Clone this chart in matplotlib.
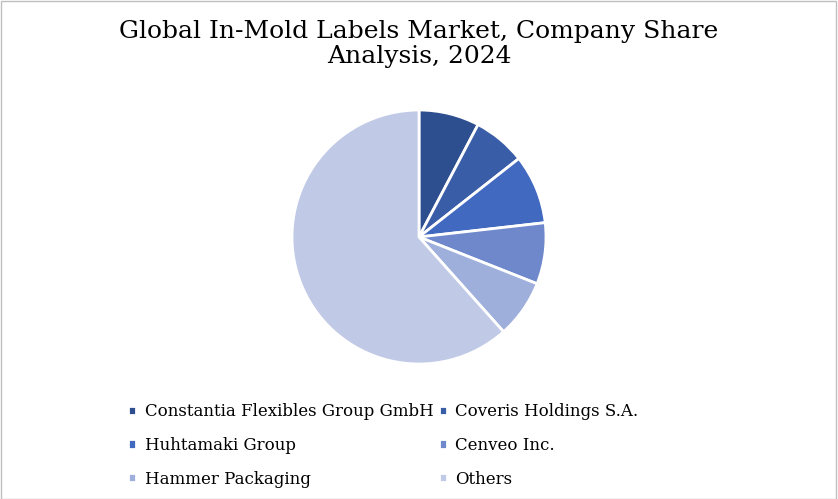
import matplotlib.pyplot as plt
from matplotlib.patches import Rectangle

companies = ["Constantia Flexibles Group GmbH", "Coveris Holdings S.A.", "Huhtamaki Group",
             "Cenveo Inc.", "Hammer Packaging", "Others"]
shares = [7.7, 6.7, 8.8, 7.8, 7.4, 61.6]
colors = ["#2E4F8F", "#3A5DA8", "#4169C0", "#6F88CC", "#9FAFDB", "#C0CAE6"]

fig = plt.figure(figsize=(8.38, 4.99), dpi=100)
fig.patches.append(Rectangle((0.001, 0.001), 0.997, 0.997, transform=fig.transFigure,
                             fill=False, edgecolor="#BFBFBF", linewidth=1))
fig.text(0.5, 0.96, "Global In-Mold Labels Market, Company Share\nAnalysis, 2024",
         ha="center", va="top", fontsize=18, family="DejaVu Serif", linespacing=1.1)
ax = fig.add_axes([0.5 - 127/838, 1 - 364/499, 254/838, 254/499])
wedges, _ = ax.pie(shares, colors=colors, startangle=90, counterclock=False,
                   wedgeprops=dict(edgecolor="white", linewidth=2))
ax.set_xlim(-1.0, 1.0)
ax.set_ylim(-1.0, 1.0)
ax.set_aspect("equal")
order = [0, 2, 4, 1, 3, 5]
leg = fig.legend([wedges[i] for i in order], [companies[i] for i in order],
                 loc="upper left", bbox_to_anchor=(0.135, 0.222), ncol=2,
                 frameon=False, prop=dict(family="DejaVu Serif", size=12),
                 handlelength=0.5, handleheight=0.5, columnspacing=0.3, labelspacing=1.0,
                 handletextpad=0.5)
fig.savefig("out.png", dpi=100)
